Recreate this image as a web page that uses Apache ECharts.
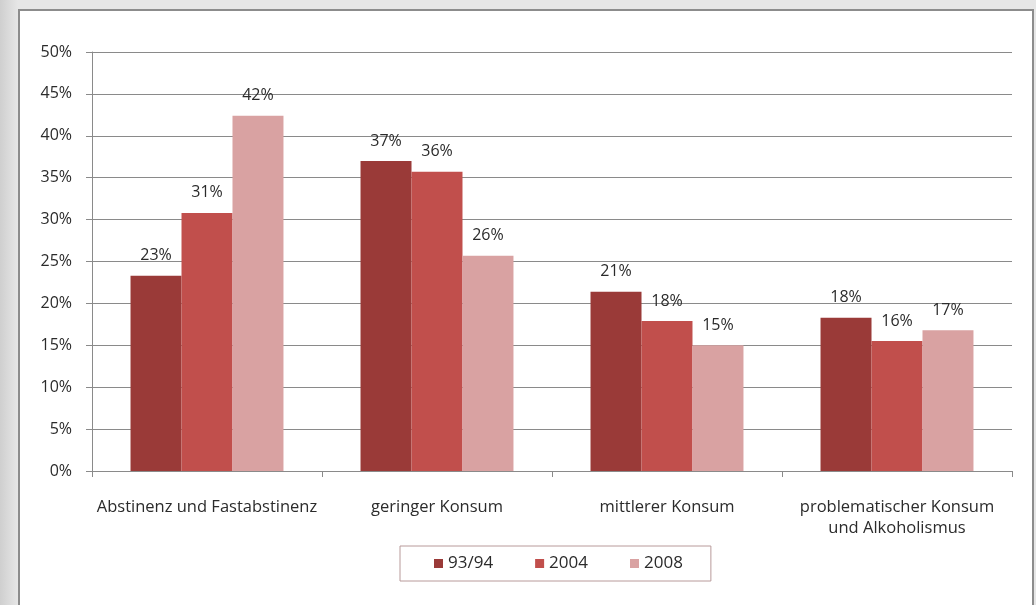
<!DOCTYPE html>
<html>
<head>
<meta charset="utf-8">
<script src="https://cdn.jsdelivr.net/npm/echarts@6/dist/echarts.min.js"></script>
<style>
  html, body { margin: 0; padding: 0; width: 1036px; height: 605px; overflow: hidden; }
  body { background: linear-gradient(to right, #cfcfcf 0px, #dcdcdc 10px, #e6e6e6 18px); }
  #frame { position: absolute; left: 18px; top: 9px; width: 1012px; height: 620px; background: #ffffff; border: 2px solid #8c8c8c; }
  #chart { position: absolute; left: 0; top: 0; width: 1036px; height: 605px; }
</style>
</head>
<body>
<div id="frame"></div>
<div id="chart"></div>
<script>
const categories = ['Abstinenz und Fastabstinenz', 'geringer Konsum', 'mittlerer Konsum', 'problematischer Konsum\nund Alkoholismus'];
const seriesNames = ['93/94', '2004', '2008'];
const values9394 = [23.3, 37.0, 21.4, 18.3];
const values2004 = [30.8, 35.7, 17.9, 15.5];
const values2008 = [42.4, 25.7, 15.0, 16.8];
const yTicks = [0, 5, 10, 15, 20, 25, 30, 35, 40, 45, 50];

const colors = ['#9a3a38', '#c14f4c', '#d9a2a2'];
const FONT = 'Open Sans';
const allValues = [values9394, values2004, values2008];

const chart = echarts.init(document.getElementById('chart'), null, { renderer: 'canvas' });
chart.setOption({
  backgroundColor: 'transparent',
  animation: false,
  textStyle: { fontFamily: FONT },
  grid: { left: 92, right: 24, top: 52, bottom: 134, containLabel: false },
  legend: {
    data: seriesNames,
    left: 400,
    top: 546,
    padding: [9, 28, 9, 34],
    itemWidth: 9,
    itemHeight: 9,
    itemGap: 42,
    icon: 'rect',
    borderColor: '#b89a9a',
    borderWidth: 1,
    textStyle: { fontFamily: FONT, fontSize: 17, color: '#2b2b2b', padding: [0, 0, 0, 0] }
  },
  xAxis: {
    type: 'category',
    data: categories,
    axisLine: { show: true, lineStyle: { color: '#8a8a8a', width: 1 } },
    axisTick: { show: true, alignWithLabel: false, length: 6, lineStyle: { color: '#8a8a8a' } },
    axisLabel: { fontFamily: FONT, fontSize: 16.5, color: '#2b2b2b', margin: 26, lineHeight: 21, interval: 0 }
  },
  yAxis: {
    type: 'value',
    min: 0,
    max: 50,
    interval: 5,
    axisLine: { show: true, lineStyle: { color: '#8a8a8a', width: 1 } },
    axisTick: { show: true, length: 6, lineStyle: { color: '#8a8a8a' } },
    axisLabel: { fontFamily: FONT, fontSize: 16, color: '#2b2b2b', margin: 20, formatter: v => yTicks.includes(v) ? v + '%' : '' },
    splitLine: { show: true, lineStyle: { color: '#8a8a8a', width: 1 } }
  },
  series: seriesNames.map((name, i) => ({
    name: name,
    type: 'bar',
    data: allValues[i],
    barGap: '0%',
    barCategoryGap: '33.5%',
    itemStyle: { color: colors[i] },
    label: {
      show: true,
      position: 'top',
      distance: 12,
      fontFamily: FONT,
      fontSize: 16,
      color: '#2b2b2b',
      formatter: p => Math.round(p.value) + '%'
    }
  }))
});
</script>
</body>
</html>
